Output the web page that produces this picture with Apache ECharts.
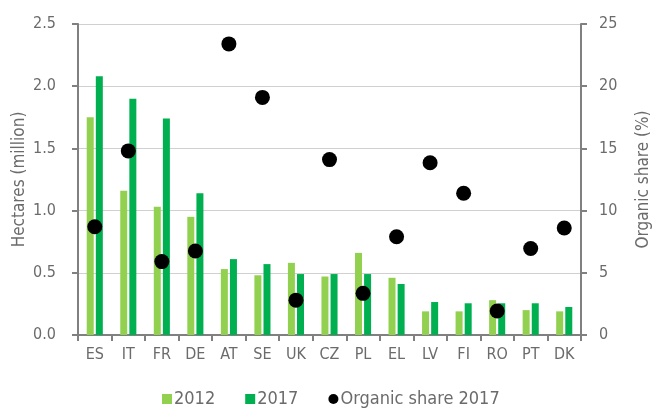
<!DOCTYPE html>
<html><head><meta charset="utf-8">
<script src="https://cdn.jsdelivr.net/npm/echarts@6/dist/echarts.min.js"></script>
<style>html,body{margin:0;padding:0;background:#fff}#c{width:654px;height:409px}</style>
</head><body><div id="c"></div>
<script>
const categories = ['ES','IT','FR','DE','AT','SE','UK','CZ','PL','EL','LV','FI','RO','PT','DK'];
const ha2012 = [1.75,1.16,1.03,0.95,0.53,0.48,0.58,0.47,0.66,0.46,0.19,0.19,0.28,0.20,0.19];
const ha2017 = [2.08,1.90,1.74,1.14,0.61,0.57,0.49,0.49,0.49,0.41,0.265,0.255,0.255,0.255,0.225];
const share2017 = [8.7,14.8,5.9,6.75,23.4,19.1,2.8,14.1,3.35,7.9,13.85,11.4,1.93,6.95,8.6];
const leftTicks = ['0.0','0.5','1.0','1.5','2.0','2.5'];

const FONT = "'Liberation Sans Narrow','DejaVu Sans Condensed',sans-serif";
const TXT = '#6b6b6b';
const AX = '#808080';
const chart = echarts.init(document.getElementById('c'));
chart.setOption({
  animation:false,
  textStyle:{fontFamily:FONT},
  grid:{left:78,right:73,top:24,bottom:74,outerBoundsMode:'none',containLabel:false},
  legend:{
    top:385,left:157,itemGap:30,itemWidth:10,itemHeight:10,
    textStyle:{fontFamily:FONT,fontSize:18,color:TXT,padding:[0,0,0,-3]},
    data:[{name:'2012',icon:'rect'},{name:'2017',icon:'rect'},{name:'Organic share 2017',icon:'circle',itemStyle:{opacity:1}}]
  },
  xAxis:{
    type:'category',data:categories,
    axisLine:{lineStyle:{color:AX,width:2}},
    axisTick:{show:true,length:6,lineStyle:{color:AX,width:2}},
    axisLabel:{fontSize:16,color:TXT,margin:12,fontFamily:FONT}
  },
  yAxis:[{
    type:'value',min:0,max:2.5,interval:0.5,
    name:'Hectares (million)',nameLocation:'middle',nameGap:50,nameRotate:90,nameMoveOverlap:false,
    nameTextStyle:{fontSize:17,color:TXT,fontFamily:FONT},
    axisLine:{show:true,lineStyle:{color:AX,width:2}},
    axisTick:{show:true,length:6,lineStyle:{color:AX,width:2}},
    axisLabel:{fontSize:16,color:TXT,margin:22,fontFamily:FONT,formatter:(v,i)=>leftTicks[i]},
    splitLine:{lineStyle:{color:'#d0d0d0',width:1}}
  },{
    type:'value',min:0,max:25,interval:5,position:'right',
    name:'Organic share (%)',nameLocation:'middle',nameGap:54,nameRotate:90,
    nameTextStyle:{fontSize:17,color:TXT,fontFamily:FONT},
    axisLine:{show:true,lineStyle:{color:AX,width:2}},
    axisTick:{show:true,length:6,lineStyle:{color:AX,width:2}},
    axisLabel:{fontSize:16,color:TXT,margin:18,fontFamily:FONT},
    splitLine:{show:false}
  }],
  series:[
    {name:'2012',type:'bar',data:ha2012,barWidth:7,barGap:'30%',itemStyle:{color:'#92D050'}},
    {name:'2017',type:'bar',data:ha2017,barWidth:7,itemStyle:{color:'#00B050'}},
    {name:'Organic share 2017',type:'scatter',yAxisIndex:1,data:share2017,symbolSize:15,itemStyle:{color:'#000',opacity:1},z:5}
  ]
});
</script></body></html>
